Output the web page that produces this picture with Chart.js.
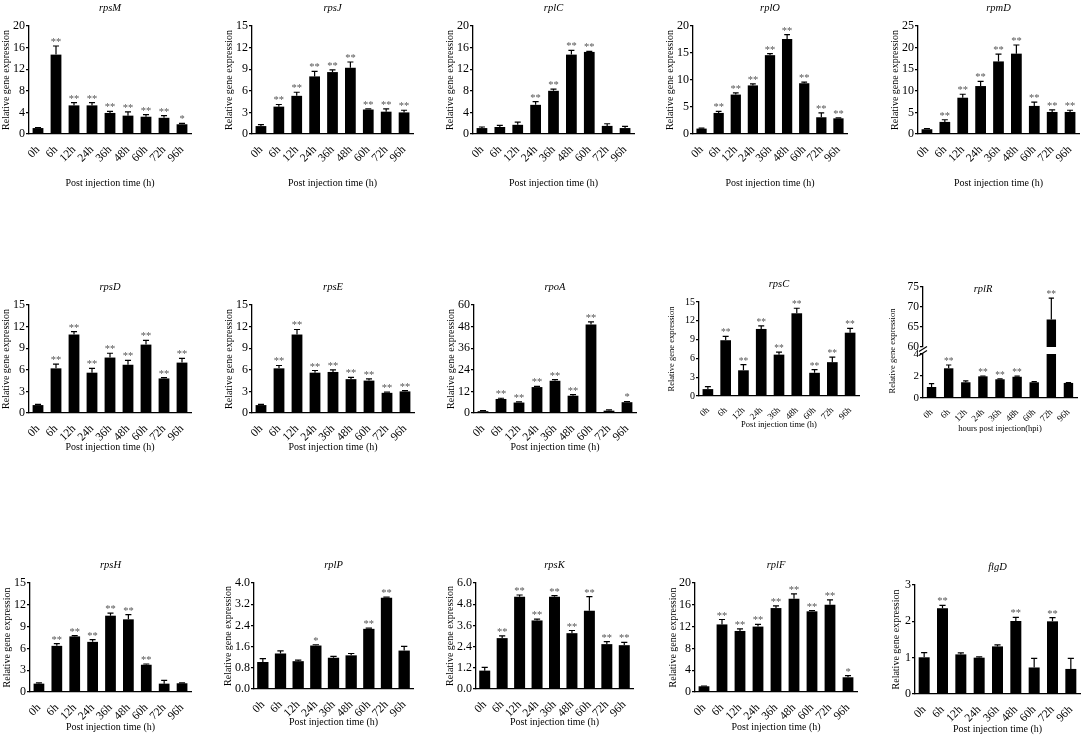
<!DOCTYPE html>
<html>
<head>
<meta charset="utf-8">
<script src="https://cdn.jsdelivr.net/npm/chart.js@4.4.0/dist/chart.umd.min.js"></script>
<style>
  html, body { margin: 0; padding: 0; background: #fff; }
  #page { position: relative; width: 1084px; height: 737px; overflow: hidden; background: #fff; }
</style>
</head>
<body>
<div id="page"></div>
<script>
// time points on every x axis
const hours = ['0h', '6h', '12h', '24h', '36h', '48h', '60h', '72h', '96h'];
// most panels: every point after 0h is ** significant
const starsAll = ['', '**', '**', '**', '**', '**', '**', '**', '**'];

const rpsM = [1.1, 14.7, 5.3, 5.3, 3.9, 3.4, 3.2, 3.0, 1.8];
const rpsMErr = [0.1, 1.6, 0.5, 0.5, 0.3, 0.7, 0.4, 0.4, 0.15];
const rpsMSig = ['', '**', '**', '**', '**', '**', '**', '**', '*'];

const rpsJ = [1.1, 3.8, 5.3, 8.0, 8.6, 9.2, 3.4, 3.1, 3.0];
const rpsJErr = [0.2, 0.3, 0.5, 0.7, 0.3, 0.8, 0.1, 0.4, 0.3];

const rplC = [1.1, 1.3, 1.7, 5.4, 8.0, 14.7, 15.2, 1.5, 1.1];
const rplCErr = [0.2, 0.3, 0.5, 0.6, 0.3, 0.8, 0.1, 0.4, 0.3];
const rplCSig = ['', '', '', '**', '**', '**', '**', '', ''];

const rplO = [1.0, 3.9, 7.3, 9.0, 14.6, 17.6, 9.4, 3.1, 2.9];
const rplOErr = [0.1, 0.3, 0.3, 0.3, 0.3, 0.8, 0.2, 0.8, 0.1];

const rpmD = [1.1, 2.8, 8.4, 11.1, 16.8, 18.6, 6.5, 5.1, 5.1];
const rpmDErr = [0.15, 0.5, 0.8, 1.1, 1.7, 2.0, 0.9, 0.5, 0.4];

const rpsD = [1.1, 6.2, 10.9, 5.6, 7.7, 6.7, 9.5, 4.8, 7.0];
const rpsDErr = [0.1, 0.6, 0.4, 0.6, 0.6, 0.6, 0.6, 0.1, 0.6];

const rpsE = [1.1, 6.2, 10.9, 5.6, 5.7, 4.7, 4.5, 2.8, 3.0];
const rpsEErr = [0.1, 0.4, 0.7, 0.3, 0.3, 0.25, 0.25, 0.1, 0.1];

const rpoA = [1.0, 7.8, 5.8, 14.4, 17.9, 9.6, 49.2, 1.3, 6.0];
const rpoAErr = [0.3, 0.4, 0.4, 0.4, 0.6, 0.6, 1.4, 0.4, 0.4];
const rpoASig = ['', '**', '**', '**', '**', '**', '**', '', '*'];

const rpsC = [1.1, 8.9, 4.1, 10.7, 6.6, 13.2, 3.7, 5.4, 10.1];
const rpsCErr = [0.4, 0.6, 0.9, 0.5, 0.4, 0.8, 0.5, 0.8, 0.7];

const rplR = [1.0, 2.7, 1.43, 1.97, 1.7, 1.93, 1.43, 66.9, 1.37];
const rplRErr = [0.3, 0.3, 0.12, 0.03, 0.03, 0.05, 0.05, 5.3, 0.02];
const rplRSig = ['', '**', '', '**', '**', '**', '', '**', ''];

const rpsH = [1.15, 6.35, 7.65, 6.9, 10.5, 10.0, 3.75, 1.15, 1.2];
const rpsHErr = [0.1, 0.3, 0.1, 0.3, 0.35, 0.65, 0.1, 0.45, 0.05];
const rpsHSig = ['', '**', '**', '**', '**', '**', '**', '', ''];

const rplP = [1.02, 1.34, 1.05, 1.64, 1.18, 1.27, 2.27, 3.44, 1.45];
const rplPErr = [0.13, 0.1, 0.04, 0.03, 0.05, 0.07, 0.03, 0.03, 0.16];
const rplPSig = ['', '', '', '*', '', '', '**', '**', ''];

const rpsK = [1.04, 2.88, 5.22, 3.88, 5.22, 3.16, 4.43, 2.54, 2.48];
const rpsKErr = [0.18, 0.13, 0.1, 0.08, 0.06, 0.15, 0.8, 0.14, 0.16];

const rplF = [1.05, 12.4, 11.2, 12.0, 15.4, 17.1, 14.8, 16.0, 2.7];
const rplFErr = [0.05, 0.9, 0.4, 0.4, 0.4, 0.9, 0.15, 0.9, 0.3];
const rplFSig = ['', '**', '**', '**', '**', '**', '**', '**', '*'];

const flgD = [1.01, 2.36, 1.09, 1.0, 1.31, 2.01, 0.73, 2.0, 0.69];
const flgDErr = [0.13, 0.08, 0.04, 0.02, 0.04, 0.1, 0.25, 0.1, 0.29];
const flgDSig = ['', '**', '', '', '', '**', '', '**', ''];

Chart.defaults.font.family = '"Liberation Serif", "Times New Roman", serif';
Chart.defaults.color = '#000';

const page = document.getElementById('page');
const YW = 36, PR = 6;
const normalFonts = { yTick: 12, xTick: 11.5, yTitle: 10, xTitle: 10, star: 10.5 };
const smallFonts = { yTick: 10, xTick: 9, yTitle: 8.5, xTitle: 8.5, star: 9.5 };

// error bar (top half only) + significance stars above it
const errorBars = {
  id: 'errorBars',
  afterDatasetsDraw(chart) {
    const ds = chart.data.datasets[0];
    const ys = chart.scales.y;
    const meta = chart.getDatasetMeta(0);
    const ctx = chart.ctx;
    ctx.save();
    meta.data.forEach((bar, i) => {
      const v = ds.data[i], e = ds.errors[i];
      if (v < ys.min || v > ys.max) return;
      const yv = ys.getPixelForValue(v);
      const ye = ys.getPixelForValue(v + e);
      const cap = bar.width * 0.28;
      ctx.strokeStyle = '#000';
      ctx.lineWidth = 1.2;
      ctx.beginPath();
      ctx.moveTo(bar.x, yv); ctx.lineTo(bar.x, ye);
      ctx.moveTo(bar.x - cap, ye); ctx.lineTo(bar.x + cap, ye);
      ctx.stroke();
      if (ds.stars[i]) {
        ctx.fillStyle = '#555';
        ctx.font = ds.starSize + 'px "Liberation Serif"';
        ctx.textAlign = 'center';
        ctx.textBaseline = 'alphabetic';
        ctx.fillText(ds.stars[i], bar.x, ye - 1);
      }
    });
    ctx.restore();
  }
};

function addCanvas(left, top, w, h) {
  const c = document.createElement('canvas');
  c.width = w; c.height = h;
  c.style.cssText = 'position:absolute;left:' + left + 'px;top:' + top + 'px;width:' + w + 'px;height:' + h + 'px;';
  page.appendChild(c);
  return c;
}

function drawPanel(c) {
  const f = Object.assign({}, c.small ? smallFonts : normalFonts, c.fonts || {});
  const canvasTop = c.canvasTop !== undefined ? c.canvasTop : c.T - 28;
  const padTop = c.T - canvasTop;
  const xlh = f.xTitle * 1.2, ylh = f.yTitle * 1.2;
  const showX = c.xOff != null;
  const XH = showX ? Math.round(c.xOff + xlh / 2 + 2) : 0;
  const padBottom = showX ? 0 : 8;
  const left = c.L - YW;
  const w = YW + (c.R - c.L) + PR;
  const h = padTop + (c.B - c.T) + XH + padBottom;
  const cv = addCanvas(left, canvasTop, w, h);
  const dec = c.dec || 0;

  // free text (gene name, shared axis title, axis break) in page coordinates
  const texts = {
    id: 'panelText',
    afterDraw(chart) {
      const ctx = chart.ctx;
      ctx.save();
      ctx.fillStyle = '#000';
      ctx.textAlign = 'center';
      ctx.textBaseline = 'middle';
      if (c.title) {
        const a = chart.chartArea;
        const tx = c.titleX !== undefined ? c.titleX - left : (a.left + a.right) / 2;
        const ty = c.titleY !== undefined ? c.titleY - canvasTop : a.top - 18;
        ctx.font = 'italic 10.5px "Liberation Serif"';
        ctx.fillText(c.title, tx, ty);
      }
      if (c.breakMarks) {
        ctx.strokeStyle = '#000';
        ctx.lineWidth = 1.2;
        c.breakMarks.forEach(by => {
          ctx.beginPath();
          ctx.moveTo(c.L - 4 - left, by + 2.5 - canvasTop);
          ctx.lineTo(c.L + 4 - left, by - 2.5 - canvasTop);
          ctx.stroke();
        });
      }
      if (c.sideTitle) {
        ctx.translate(c.L - c.gap - left, c.sideTitleY - canvasTop);
        ctx.rotate(-Math.PI / 2);
        ctx.font = f.yTitle + 'px "Liberation Serif"';
        ctx.fillText('Relative gene expression', 0, 0);
      }
      ctx.restore();
    }
  };

  new Chart(cv, {
    type: 'bar',
    data: {
      labels: hours,
      datasets: [{
        data: c.values,
        errors: c.errors,
        stars: c.stars,
        starSize: f.star,
        backgroundColor: '#000',
        borderWidth: 0,
        barPercentage: c.bar || 0.6,
        categoryPercentage: 1
      }]
    },
    options: {
      responsive: false,
      animation: false,
      events: [],
      layout: { padding: { top: padTop, right: PR, left: 0, bottom: padBottom } },
      plugins: { legend: { display: false }, tooltip: { enabled: false }, title: { display: false } },
      scales: {
        x: {
          display: showX,
          offset: true,
          grid: { display: false },
          border: { display: true, color: '#000', width: 1.3 },
          ticks: { color: '#000', font: { size: f.xTick }, minRotation: 45, maxRotation: 45, autoSkip: false, padding: 1 },
          title: {
            display: showX,
            text: c.xTitle || 'Post injection time (h)',
            color: '#000',
            font: { size: f.xTitle },
            padding: { top: 0, bottom: 2 }
          },
          afterFit(scale) { if (showX) scale.height = XH; }
        },
        y: {
          min: c.min || 0,
          max: c.max,
          grid: { display: true, drawOnChartArea: false, drawTicks: true, tickLength: 3, color: '#000', lineWidth: 1.2 },
          border: { display: true, color: '#000', width: 1.3 },
          ticks: {
            stepSize: c.step,
            color: '#000',
            font: { size: f.yTick },
            padding: 1,
            callback: v => Number(v).toFixed(dec)
          },
          title: {
            display: !c.sideTitle && c.gap != null,
            text: 'Relative gene expression',
            color: '#000',
            font: { size: f.yTitle },
            padding: { top: Math.max(0, YW - (c.gap || 22) - ylh / 2), bottom: 0 }
          },
          afterFit(scale) { scale.width = YW; }
        }
      }
    },
    plugins: [errorBars, texts]
  });
}

const panels = [
  // row 1
  { title: 'rpsM', values: rpsM, errors: rpsMErr, stars: rpsMSig, max: 20, step: 4, L: 29, R: 191, T: 26, B: 134, xOff: 49, gap: 23 },
  { title: 'rpsJ', values: rpsJ, errors: rpsJErr, stars: starsAll, max: 15, step: 3, L: 252, R: 413, T: 26, B: 134, xOff: 49, gap: 23 },
  { title: 'rplC', values: rplC, errors: rplCErr, stars: rplCSig, max: 20, step: 4, L: 473, R: 634, T: 26, B: 134, xOff: 49, gap: 23 },
  { title: 'rplO', values: rplO, errors: rplOErr, stars: starsAll, max: 20, step: 5, L: 693, R: 847, T: 26, B: 134, xOff: 49, gap: 23 },
  { title: 'rpmD', values: rpmD, errors: rpmDErr, stars: starsAll, max: 25, step: 5, L: 918, R: 1079, T: 26, B: 134, xOff: 49, gap: 23 },
  // row 2
  { title: 'rpsD', values: rpsD, errors: rpsDErr, stars: starsAll, max: 15, step: 3, L: 29, R: 191, T: 305, B: 413, xOff: 34, gap: 23 },
  { title: 'rpsE', values: rpsE, errors: rpsEErr, stars: starsAll, max: 15, step: 3, L: 252, R: 414, T: 305, B: 413, xOff: 34, gap: 23 },
  { title: 'rpoA', values: rpoA, errors: rpoAErr, stars: rpoASig, max: 60, step: 12, L: 474, R: 636, T: 305, B: 413, xOff: 34, gap: 23 },
  { title: 'rpsC', values: rpsC, errors: rpsCErr, stars: starsAll, max: 15, step: 3, L: 699, R: 859, T: 302, B: 396, xOff: 29, gap: 27, small: true },
  // rplR: broken axis = lower part (0-4) + upper part (60-75)
  { values: rplR, errors: rplRErr, stars: rplRSig, max: 4, step: 1, L: 923, R: 1077, T: 354, B: 398, xOff: 31, gap: 30, small: true,
    fonts: { yTick: 11 }, canvasTop: 259, xTitle: 'hours post injection(hpi)', sideTitle: true, sideTitleY: 351, breakMarks: [349, 353], bar: 0.55 },
  { title: 'rplR', values: rplR, errors: rplRErr, stars: rplRSig, min: 60, max: 75, step: 5, L: 923, R: 1077, T: 287, B: 347, small: true,
    fonts: { yTick: 11.5 }, canvasTop: 259, titleX: 983, titleY: 289, bar: 0.55 },
  // row 3
  { title: 'rpsH', values: rpsH, errors: rpsHErr, stars: rpsHSig, max: 15, step: 3, L: 30, R: 191, T: 583, B: 692, xOff: 35, gap: 23 },
  { title: 'rplP', values: rplP, errors: rplPErr, stars: rplPSig, max: 4, step: 0.8, dec: 1, L: 254, R: 413, T: 583, B: 689, xOff: 33, gap: 26, bar: 0.64 },
  { title: 'rpsK', values: rpsK, errors: rpsKErr, stars: starsAll, max: 6, step: 1.2, dec: 1, L: 476, R: 633, T: 583, B: 689, xOff: 33, gap: 26, bar: 0.63 },
  { title: 'rplF', values: rplF, errors: rplFErr, stars: rplFSig, max: 20, step: 4, L: 695, R: 857, T: 583, B: 692, xOff: 35, gap: 22 },
  { title: 'flgD', values: flgD, errors: flgDErr, stars: flgDSig, max: 3, step: 1, L: 915, R: 1080, T: 585, B: 694, xOff: 35, gap: 19 }
];

panels.forEach(drawPanel);
</script>
</body>
</html>
